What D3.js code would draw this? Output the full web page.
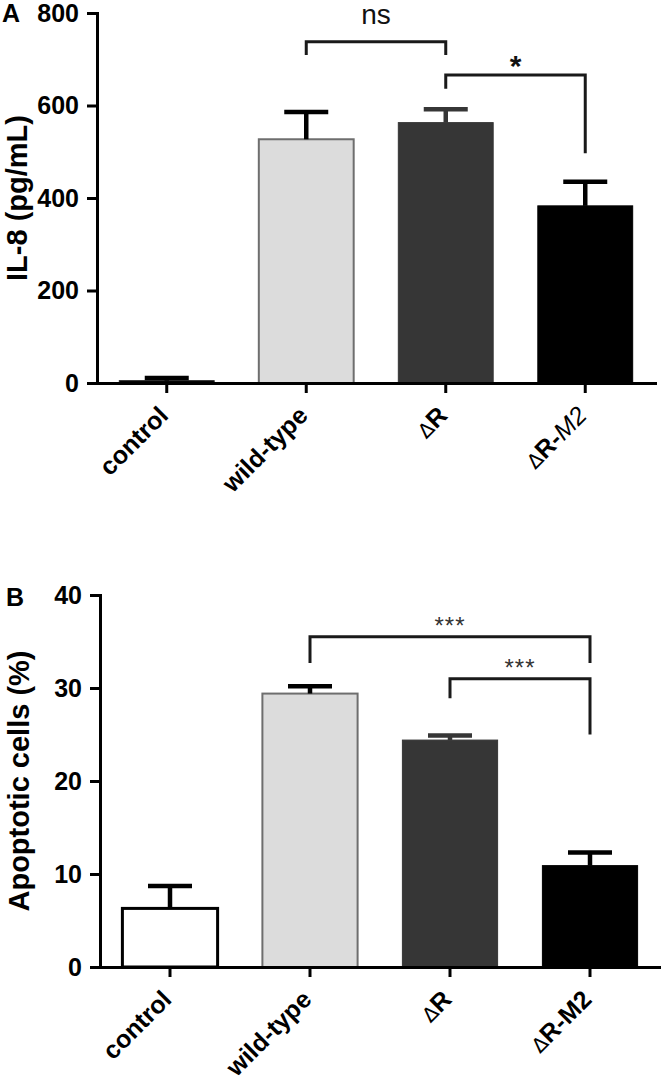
<!DOCTYPE html>
<html>
<head>
<meta charset="utf-8">
<script src="https://cdn.jsdelivr.net/npm/d3@7/dist/d3.min.js"></script>
<style>
  body { margin: 0; background: #fff; }
  svg { display: block; font-family: "Liberation Sans", Arial, sans-serif; }
</style>
</head>
<body>
<div class="myChart"></div>
<script>
// categories shared by both panels
var categories = ["control", "wild-type", "ΔR", "ΔR-M2"];

// panel A: IL-8 (pg/mL)
var il8Means = [5, 527, 563, 383];
var il8Errors = [6, 59, 29, 52];
var il8Ticks = [0, 200, 400, 600, 800];
// brackets: from / to category index, top of bracket, end of left / right leg (data units)
var il8Brackets = [
    {from: 1, to: 2, top: 738, leftEnd: 709, rightEnd: 709, label: "ns"},
    {from: 2, to: 3, top: 666, leftEnd: 636, rightEnd: 497, label: "*"}
];

// panel B: apoptotic cells (%)
var apoMeans = [6.3, 29.4, 24.4, 10.9];
var apoErrors = [2.4, 0.8, 0.5, 1.4];
var apoTicks = [0, 10, 20, 30, 40];
var apoBrackets = [
    {from: 1, to: 3, top: 35.5, leftEnd: 32.7, rightEnd: 32.7, label: "***"},
    {from: 2, to: 3, top: 31.0, leftEnd: 28.9, rightEnd: 25.0, label: "***"}
];

var width = 661;
var height = 1077;

var svg = d3.select(".myChart").append("svg")
    .attr("width", width)
    .attr("height", height)
    .style("background", "#fff");

function drawPanel(opt) {
    var x = d3.scaleBand()
        .domain(categories)
        .range(opt.xRange)
        .paddingInner(0.32)
        .paddingOuter(0.16);
    var y = d3.scaleLinear()
        .domain(opt.yDomain)
        .range(opt.yRange);
    var base = y(0);
    var g = svg.append("g");

    //bars
    g.selectAll("rect.bar")
        .data(opt.means)
        .enter()
        .append("rect")
        .attr("class", "bar")
        .attr("x", function(d, i) {return x(categories[i]);})
        .attr("width", x.bandwidth())
        .attr("y", function(d) {return y(d);})
        .attr("height", function(d) {return base - y(d);})
        .style("fill", function(d, i) {return opt.fills[i];})
        .style("stroke", function(d, i) {return opt.strokes[i];})
        .style("stroke-width", function(d, i) {return opt.strokeWidths[i];});

    //error bars (upper only)
    var err = g.selectAll("g.err")
        .data(opt.means)
        .enter()
        .append("g")
        .attr("class", "err")
        .style("stroke", function(d, i) {return opt.errColors[i];});
    err.append("line")
        .attr("x1", function(d, i) {return x(categories[i]) + x.bandwidth() / 2;})
        .attr("x2", function(d, i) {return x(categories[i]) + x.bandwidth() / 2;})
        .attr("y1", function(d) {return y(d);})
        .attr("y2", function(d, i) {return y(d + opt.errors[i]);})
        .style("stroke-width", 4.5);
    err.append("line")
        .attr("x1", function(d, i) {return x(categories[i]) + x.bandwidth() / 2 - 22;})
        .attr("x2", function(d, i) {return x(categories[i]) + x.bandwidth() / 2 + 22;})
        .attr("y1", function(d, i) {return y(d + opt.errors[i]);})
        .attr("y2", function(d, i) {return y(d + opt.errors[i]);})
        .style("stroke-width", 4.5);

    //axes
    var yAxis = g.append("g")
        .attr("transform", "translate(" + opt.xRange[0] + ",0)")
        .call(d3.axisLeft(y).tickValues(opt.ticks).tickSize(10).tickSizeOuter(0).tickPadding(8));
    yAxis.selectAll("text")
        .style("font-size", "25px")
        .style("font-weight", "bold")
        .style("fill", "#000");

    var xAxis = g.append("g")
        .attr("transform", "translate(0," + base + ")")
        .call(d3.axisBottom(x).tickSize(10).tickSizeOuter(0));
    xAxis.selectAll(".tick text").remove();

    [yAxis, xAxis].forEach(function(a) {
        a.select(".domain").style("stroke", "#000").style("stroke-width", 3).style("stroke-linecap", "square");
        a.selectAll(".tick line").style("stroke", "#000").style("stroke-width", 3);
    });

    //x labels, rotated 45 degrees
    var labG = g.selectAll("g.xlab")
        .data(categories)
        .enter()
        .append("g")
        .attr("class", "xlab")
        .attr("transform", function(d) {
            return "translate(" + (x(d) + x.bandwidth() / 2 + 3) + "," + (base + 34) + ") rotate(-45)";
        });
    var lab = labG.append("text")
        .attr("text-anchor", "end")
        .style("font-size", "25px")
        .style("font-weight", "bold");
    lab.each(function(d) {
        var t = d3.select(this);
        if (d.charAt(0) !== "Δ") {
            t.text(d);
            return;
        }
        var rest = d.slice(1);
        t.append("tspan").text("Δ")
            .style("font-weight", "normal")
            .style("font-family", "DejaVu Sans")
            .style("font-size", "20px");
        if (opt.italicM2 && rest.indexOf("-M2") > 0) {
            t.append("tspan").text(rest.replace("M2", ""));
            t.append("tspan").text("M2").style("font-style", "italic").style("font-weight", "normal");
        } else {
            t.append("tspan").text(rest);
        }
    });

    //brackets
    opt.brackets.forEach(function(b) {
        var x1 = x(categories[b.from]) + x.bandwidth() / 2;
        var x2 = x(categories[b.to]) + x.bandwidth() / 2;
        g.append("path")
            .attr("d", "M" + x1 + "," + y(b.leftEnd) + "V" + y(b.top) + "H" + x2 + "V" + y(b.rightEnd))
            .style("fill", "none")
            .style("stroke", "#1a1a1a")
            .style("stroke-width", 3);
        var t = g.append("text")
            .attr("x", (x1 + x2) / 2)
            .attr("text-anchor", "middle")
            .text(b.label);
        if (b.label === "ns") {
            t.attr("y", y(b.top) - 18).style("font-size", "28px").style("fill", "#111");
        } else if (b.label === "*") {
            t.attr("y", y(b.top) + 1).style("font-size", "30px").style("font-weight", "bold").style("fill", "#111");
        } else {
            t.attr("y", y(b.top) - 3).style("font-size", "24px").style("letter-spacing", "1px").style("fill", "#333");
        }
    });

    //y title
    g.append("g")
        .attr("transform", "translate(" + opt.titleX + "," + (opt.yRange[0] + opt.yRange[1]) / 2 + ") rotate(-90)")
        .append("text")
        .attr("text-anchor", "middle")
        .style("font-size", "29px")
        .style("font-weight", "bold")
        .text(opt.title);

    //panel letter
    g.append("text")
        .attr("x", opt.letterPos[0])
        .attr("y", opt.letterPos[1])
        .style("font-size", "25px")
        .style("font-weight", "bold")
        .text(opt.letter);
}

drawPanel({
    means: il8Means, errors: il8Errors, ticks: il8Ticks, brackets: il8Brackets,
    yDomain: [0, 800], yRange: [383, 13], xRange: [97, 655],
    fills: ["#000", "#dcdcdc", "#363636", "#000"],
    strokes: ["#222", "#6e6e6e", "#363636", "#000"],
    strokeWidths: [1, 2, 1, 1],
    errColors: ["#000", "#000", "#363636", "#000"],
    italicM2: true,
    title: "IL-8 (pg/mL)", titleX: 27,
    letter: "A", letterPos: [2, 22]
});

drawPanel({
    means: apoMeans, errors: apoErrors, ticks: apoTicks, brackets: apoBrackets,
    yDomain: [0, 40], yRange: [967, 595], xRange: [100, 660],
    fills: ["#fff", "#dcdcdc", "#363636", "#000"],
    strokes: ["#000", "#6e6e6e", "#363636", "#000"],
    strokeWidths: [3, 2, 1, 1],
    errColors: ["#000", "#000", "#363636", "#000"],
    italicM2: false,
    title: "Apoptotic cells (%)", titleX: 29,
    letter: "B", letterPos: [6, 606]
});
</script>
</body>
</html>
